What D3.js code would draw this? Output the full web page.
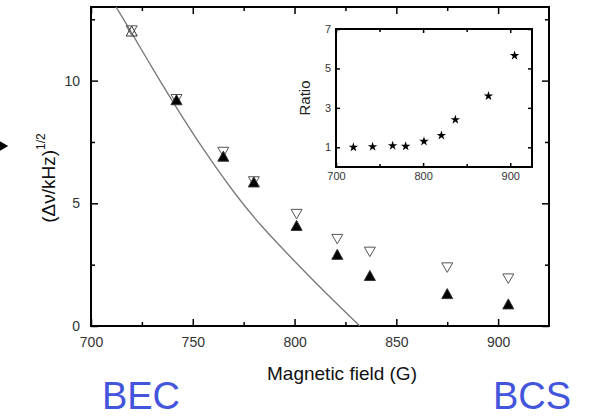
<!DOCTYPE html>
<html>
<head>
<meta charset="utf-8">
<script src="https://cdn.jsdelivr.net/npm/d3@7"></script>
<style>
  body { margin: 0; background: #fff; }
  text { font-family: "Liberation Sans", Arial, sans-serif; }
</style>
</head>
<body>
<svg width="590" height="416"></svg>
<script>
// magnetic field (G) of each measurement
let fields = [720, 742, 765, 780, 801, 821, 837, 875, 905]
// open down-triangles and filled up-triangles, (dnu/kHz)^1/2
let openVals = [12.05, 9.25, 7.1, 5.9, 4.57, 3.55, 3.03, 2.39, 1.94]
let filledVals = [12.0, 9.2, 6.9, 5.85, 4.08, 2.9, 2.04, 1.3, 0.88]
// theory curve
let curveField = [712.3, 719.2, 729.7, 739.6, 755.2, 771.6, 784.0, 799.4, 815.8, 832.1]
let curveVals = [13.0, 12.06, 10.57, 9.21, 7.17, 5.27, 4.03, 2.69, 1.30, 0]
// inset ratio
let ratioVals = [1.0, 1.03, 1.08, 1.05, 1.3, 1.6, 2.4, 3.6, 5.65]

let xTicks = [700, 750, 800, 850, 900]
let xMinor = [725, 775, 825, 875]
let yTicks = [0, 5, 10]
let yMinor = [2.5, 7.5, 12.5]
let insetXTicks = [700, 800, 900]
let insetXMinor = [750, 850]
let insetYTicks = [1, 3, 5, 7]

let svg = d3.select('svg')
let margin = { top: 7, bottom: 326, left: 91, right: 549 }

let xScale = d3.scaleLinear().domain([700, 925]).range([margin.left, margin.right])
let yScale = d3.scaleLinear().domain([0, 13]).range([margin.bottom, margin.top])

function drawAxes(g, xs, ys, xt, xm, yt, ym, opts) {
  let [x0, x1] = xs.range()
  let [y0, y1] = ys.range()
  let big = opts.big, small = opts.small
  // bottom with labels
  g.append('g')
    .attr('transform', 'translate(' + [0, y0] + ')')
    .call(d3.axisBottom(xs).tickValues(xt).tickFormat(d3.format('d')).tickSize(-big).tickPadding(opts.pad))
    .call(a => a.selectAll('text').attr('font-size', opts.fs).attr('fill', '#333'))
  g.append('g')
    .attr('transform', 'translate(' + [0, y0] + ')')
    .call(d3.axisBottom(xs).tickValues(xm).tickFormat('').tickSize(-small))
  // top
  g.append('g')
    .attr('transform', 'translate(' + [0, y1] + ')')
    .call(d3.axisTop(xs).tickValues(xt).tickFormat('').tickSize(-big))
  g.append('g')
    .attr('transform', 'translate(' + [0, y1] + ')')
    .call(d3.axisTop(xs).tickValues(xm).tickFormat('').tickSize(-small))
  // left with labels
  g.append('g')
    .attr('transform', 'translate(' + [x0, 0] + ')')
    .call(d3.axisLeft(ys).tickValues(yt).tickFormat(d3.format('d')).tickSize(-big).tickPadding(opts.pad))
    .call(a => a.selectAll('text').attr('font-size', opts.fs).attr('fill', '#333'))
  if (ym.length) g.append('g')
    .attr('transform', 'translate(' + [x0, 0] + ')')
    .call(d3.axisLeft(ys).tickValues(ym).tickFormat('').tickSize(-small))
  // right
  g.append('g')
    .attr('transform', 'translate(' + [x1, 0] + ')')
    .call(d3.axisRight(ys).tickValues(yt).tickFormat('').tickSize(-big))
  if (ym.length) g.append('g')
    .attr('transform', 'translate(' + [x1, 0] + ')')
    .call(d3.axisRight(ys).tickValues(ym).tickFormat('').tickSize(-small))
  g.selectAll('.domain').remove()
  g.selectAll('.tick line').attr('stroke', '#000').attr('stroke-width', 1.5)
  g.append('rect')
    .attr('x', x0).attr('y', y1)
    .attr('width', x1 - x0).attr('height', y0 - y1)
    .attr('fill', 'none').attr('stroke', '#000').attr('stroke-width', 2)
}

let main = svg.append('g')
drawAxes(main, xScale, yScale, xTicks, xMinor, yTicks, yMinor, { big: 7, small: 4, pad: 11, fs: 14 })

// theory curve
let curvePts = curveField.map((f, i) => [f, curveVals[i]])
main.append('path')
  .datum(curvePts)
  .attr('fill', 'none')
  .attr('stroke', '#777')
  .attr('stroke-width', 1.3)
  .attr('d', d3.line().x(d => xScale(d[0])).y(d => yScale(d[1])).curve(d3.curveBasis))

let upTri = 'M0,-5.5L5.5,4.5L-5.5,4.5Z'
let downTri = 'M0,5L5.5,-4.5L-5.5,-4.5Z'

main.selectAll('.dn')
  .data(fields)
  .enter()
  .append('path')
  .attr('class', 'dn')
  .attr('d', downTri)
  .attr('transform', (d, i) => 'translate(' + [xScale(d), yScale(openVals[i])] + ')')
  .attr('fill', 'none')
  .attr('stroke', '#555')
  .attr('stroke-width', 1)

main.selectAll('.up')
  .data(fields)
  .enter()
  .append('path')
  .attr('class', 'up')
  .attr('d', upTri)
  .attr('transform', (d, i) => 'translate(' + [xScale(d), yScale(filledVals[i])] + ')')
  .attr('fill', (d, i) => i === 0 ? 'none' : '#000')
  .attr('stroke', '#333')
  .attr('stroke-width', 1)

// axis titles
main.append('text')
  .attr('x', 342).attr('y', 380)
  .attr('text-anchor', 'middle')
  .attr('font-size', 19)
  .attr('fill', '#111')
  .text('Magnetic field (G)')

let yl = main.append('text')
  .attr('transform', 'translate(55,178) rotate(-90)')
  .attr('text-anchor', 'middle')
  .attr('font-size', 19)
  .attr('fill', '#111')
yl.append('tspan').text('(Δν/kHz)')
yl.append('tspan').attr('font-size', 12).attr('dy', -10).text('1/2')

// arrow tip at left edge
svg.append('path')
  .attr('d', 'M-4,146L6,146M0,142L7,146L0,150Z')
  .attr('stroke', '#000').attr('stroke-width', 1.2).attr('fill', '#000')

// inset
let ix = d3.scaleLinear().domain([700, 925]).range([336, 532])
let iy = d3.scaleLinear().domain([0, 7]).range([167, 29])
let inset = svg.append('g')
inset.append('rect').attr('x', 336).attr('y', 29).attr('width', 196).attr('height', 138).attr('fill', '#fff')
drawAxes(inset, ix, iy, insetXTicks, insetXMinor, insetYTicks, [], { big: 4, small: 3, pad: 5, fs: 11 })

inset.selectAll('.pt')
  .data(fields)
  .enter()
  .append('path')
  .attr('class', 'pt')
  .attr('d', d3.symbol(d3.symbolStar, 28))
  .attr('transform', (d, i) => 'translate(' + [ix(d), iy(ratioVals[i])] + ')')
  .attr('fill', '#000')

inset.append('text')
  .attr('transform', 'translate(310,98) rotate(-90)')
  .attr('text-anchor', 'middle')
  .attr('font-size', 15)
  .attr('fill', '#222')
  .text('Ratio')

// regime labels
svg.append('text')
  .attr('x', 141).attr('y', 409)
  .attr('text-anchor', 'middle')
  .attr('font-size', 38)
  .attr('fill', '#4455dd')
  .text('BEC')
svg.append('text')
  .attr('x', 532).attr('y', 409)
  .attr('text-anchor', 'middle')
  .attr('font-size', 38)
  .attr('fill', '#4455dd')
  .text('BCS')
</script>
</body>
</html>
